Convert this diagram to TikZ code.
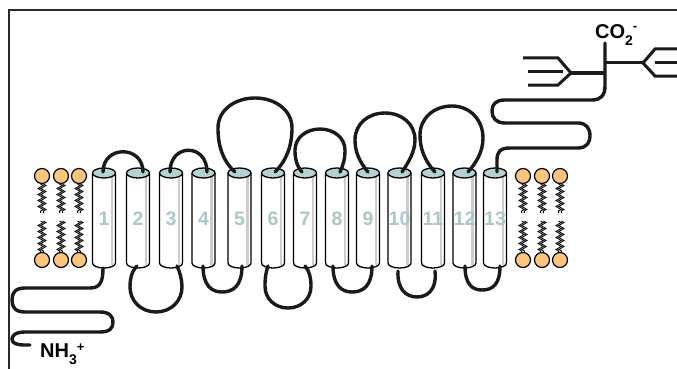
\documentclass[tikz,border=0pt]{standalone}
\usepackage{fontspec}
\setmainfont{Liberation Sans}
\usetikzlibrary{decorations.pathmorphing}
\definecolor{lipidorange}{HTML}{FCC57E}
\definecolor{helixcap}{HTML}{B4D2D2}
\definecolor{helixnum}{HTML}{AAC8C8}
\definecolor{chain}{HTML}{1A1A1A}
\definecolor{framegray}{HTML}{2A2A2A}

\begin{document}
\begin{tikzpicture}[x=1pt,y=-1pt,
  chainline/.style={draw=chain, line width=3.4pt, line cap=round, line join=round},
  sugar/.style={draw=chain, line width=3pt, line cap=butt, line join=miter},
  helixedge/.style={draw=black, line width=1.3pt, line join=round},
  helixshade/.style={draw=gray!40, line width=2.2pt},
  helixnumber/.style={text=helixnum, font=\bfseries\fontsize{19.5}{20}\selectfont, inner sep=0pt},
  lipidhead/.style={draw=black, line width=1.2pt, fill=lipidorange},
  lipidtail/.style={draw=black, line width=0.9pt,
    decorate, decoration={zigzag, segment length=6pt, amplitude=2.6pt}},
  termlabel/.style={font=\bfseries\fontsize{20}{20}\selectfont, inner sep=0pt, anchor=base west},
]
\useasboundingbox (0,0) rectangle (677,369);
\fill[white] (0,0) rectangle (677,369);

% frame (top and left edges)
\draw[framegray, line width=1.8pt] (9,369) -- (9,10) -- (677,10);

% lipid bilayer on both sides of the bundle
\foreach \lx in {42,61,79,523,542,560} {
  \foreach \ty/\by in {184/213, 221/252} {
    \draw[lipidtail] (\lx-1.4,\ty) -- (\lx-1.4,\by);
    \draw[lipidtail] (\lx+1.4,\ty) -- (\lx+1.4,\by);
  }
  \draw[lipidhead] (\lx,176) circle[radius=7.5pt];
  \draw[lipidhead] (\lx,260) circle[radius=7.5pt];
}

% thirteen transmembrane helices
\foreach \cx [count=\i] in {104,138,171,203.5,239.5,273,305,337,368,399.5,433,464.5,495} {
  \fill[white] (\cx-11.5,173) -- (\cx-11.5,263)
      .. controls (\cx-11.5,265.8) and (\cx-6.35,268) .. (\cx,268)
      .. controls (\cx+6.35,268) and (\cx+11.5,265.8) .. (\cx+11.5,263)
      -- (\cx+11.5,173) -- cycle;
  \draw[helixshade] (\cx+8,177) -- (\cx+8,265);
  \draw[helixedge] (\cx-11.5,173) -- (\cx-11.5,263)
      .. controls (\cx-11.5,265.8) and (\cx-6.35,268) .. (\cx,268)
      .. controls (\cx+6.35,268) and (\cx+11.5,265.8) .. (\cx+11.5,263)
      -- (\cx+11.5,173);
  \draw[helixedge, fill=helixcap] (\cx,173) ellipse [x radius=11.5pt, y radius=5pt];
  \node[helixnumber] (n\i) at (\cx,218.5) {\i};
}

% extracellular loops
\draw[chainline] (103,172) .. controls (103,145) and (143,145) .. (143,172);
\draw[chainline] (170,172) .. controls (170,143) and (207,143) .. (207,172);
\draw[chainline] (235,172) .. controls (222,160) and (218,145) .. (218,128)
   .. controls (218,110) and (235,98) .. (255,98)
   .. controls (275,98) and (292,110) .. (292,128)
   .. controls (292,145) and (287,160) .. (275,172);
\draw[chainline] (302,172) .. controls (296,165) and (295,158) .. (295,150)
   .. controls (295,138) and (306,129) .. (320,129)
   .. controls (334,129) and (345,138) .. (345,150)
   .. controls (345,160) and (343,165) .. (340,172);
\draw[chainline] (368,172) .. controls (358,160) and (355,150) .. (355,140)
   .. controls (355,124) and (368,113) .. (385,113)
   .. controls (402,113) and (415,124) .. (415,140)
   .. controls (415,152) and (408,163) .. (402,172);
\draw[chainline] (435,172) .. controls (424,160) and (420,148) .. (420,135)
   .. controls (420,118) and (434,106) .. (452,106)
   .. controls (470,106) and (483,120) .. (483,138)
   .. controls (483,152) and (476,163) .. (468,172);

% intracellular loops
\draw[chainline] (137,266) .. controls (131,272) and (130,280) .. (130,287)
   .. controls (130,301) and (141,312) .. (156,312)
   .. controls (171,312) and (182,301) .. (182,287)
   .. controls (182,280) and (180,272) .. (177,266);
\draw[chainline] (203,266) .. controls (203,286) and (212,292) .. (222,292)
   .. controls (233,292) and (242,286) .. (242,266);
\draw[chainline] (268,266) .. controls (265,275) and (265,282) .. (265,286)
   .. controls (265,299) and (275,308) .. (288,308)
   .. controls (301,308) and (311,299) .. (311,286)
   .. controls (311,278) and (309,270) .. (305,266);
\draw[chainline] (333,266) .. controls (333,286) and (342,292) .. (352,292)
   .. controls (363,292) and (372,286) .. (372,266);
\draw[chainline] (398,271) .. controls (397,289) and (406,297) .. (417,297)
   .. controls (428,297) and (437,289) .. (435,271);
\draw[chainline] (465,266) .. controls (465,284) and (472,290) .. (482,290)
   .. controls (493,290) and (500,284) .. (500,266);

% N-terminal tail
\draw[chainline] (103,268) .. controls (103,282) and (100,288) .. (90,288)
   -- (25,288) .. controls (15,288) and (12,293) .. (12,300)
   .. controls (12,307) and (15,312) .. (25,312)
   -- (100,312) .. controls (110,312) and (113,317) .. (113,322)
   .. controls (113,328) and (110,332) .. (100,332)
   -- (25,332) .. controls (15,332) and (12,336) .. (12,339)
   .. controls (12,343) and (16,345) .. (25,345) -- (30,345);

% C-terminal tail with its stem
\draw[chainline] (497,172) -- (497,160) .. controls (497,152) and (500,148) .. (510,148)
   -- (578,148) .. controls (587,148) and (590,142) .. (590,136)
   .. controls (590,128) and (586,123) .. (578,123)
   -- (505,123) .. controls (496,123) and (492,118) .. (492,111)
   .. controls (492,104) and (496,100) .. (505,100)
   -- (592,100) .. controls (601,100) and (605,95) .. (605,86) -- (605,43);

% glycan branches
\draw[sugar] (605,73) -- (571,73);
\draw[sugar] (523,58) -- (558,58) -- (571,73) -- (558,85) -- (528,85);
\draw[sugar] (528,71.5) -- (563,71.5);
\draw[sugar] (605,63) -- (643,63);
\draw[sugar] (677,49) -- (655,49) -- (643,63) -- (655,76) -- (677,76);
\draw[sugar] (655,62.5) -- (677,62.5);

% terminus labels
\node[termlabel] (nterm) at (40,357)
  {NH\raisebox{-7pt}{\fontsize{14}{14}\selectfont 3}\raisebox{6pt}{\fontsize{13}{13}\selectfont +}};
\node[termlabel] (cterm) at (595,39)
  {CO\raisebox{-6pt}{\fontsize{14}{14}\selectfont 2}\raisebox{9pt}{\fontsize{13}{13}\selectfont -}};
\end{tikzpicture}
\end{document}
